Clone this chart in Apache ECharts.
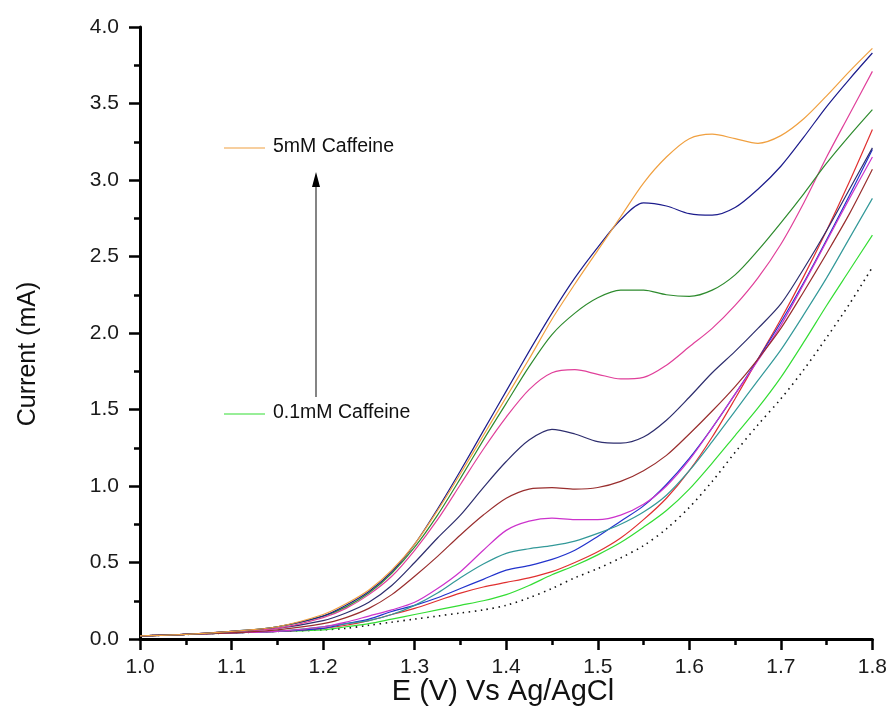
<!DOCTYPE html>
<html>
<head>
<meta charset="utf-8">
<script src="https://cdn.jsdelivr.net/npm/echarts@6/dist/echarts.min.js"></script>
<style>html,body{margin:0;padding:0;background:#fff;}#c{width:890px;height:713px;}</style>
</head>
<body>
<div id="c"></div>
<script>
// Potential grid (V vs Ag/AgCl)
const potentials = [1.00,1.05,1.10,1.15,1.20,1.225,1.25,1.275,1.30,1.325,1.35,1.375,1.40,1.425,1.45,1.475,1.50,1.525,1.55,1.575,1.60,1.625,1.65,1.675,1.70,1.725,1.75,1.775,1.80];

// Currents (mA)
const blank      = [0.02,0.03,0.04,0.05,0.06,0.07,0.09,0.11,0.13,0.15,0.17,0.19,0.22,0.27,0.33,0.40,0.46,0.53,0.61,0.72,0.86,1.03,1.22,1.40,1.57,1.76,1.97,2.19,2.43];
const c01mM      = [0.02,0.03,0.04,0.05,0.06,0.08,0.10,0.13,0.16,0.19,0.22,0.25,0.29,0.35,0.42,0.48,0.55,0.63,0.73,0.84,0.98,1.15,1.33,1.51,1.71,1.94,2.18,2.41,2.64];
const cRed       = [0.02,0.03,0.04,0.05,0.07,0.09,0.12,0.16,0.20,0.25,0.30,0.34,0.37,0.40,0.44,0.50,0.57,0.66,0.78,0.92,1.10,1.32,1.57,1.83,2.09,2.37,2.67,2.99,3.33];
const cBlue      = [0.02,0.03,0.04,0.05,0.07,0.10,0.13,0.18,0.22,0.27,0.33,0.39,0.45,0.48,0.52,0.58,0.67,0.77,0.87,1.01,1.18,1.38,1.60,1.83,2.07,2.33,2.61,2.90,3.20];
const cTeal      = [0.02,0.03,0.04,0.05,0.08,0.10,0.12,0.16,0.22,0.30,0.40,0.49,0.56,0.59,0.61,0.64,0.69,0.75,0.83,0.94,1.10,1.29,1.49,1.69,1.89,2.12,2.36,2.62,2.88];
const cViolet    = [0.02,0.03,0.04,0.05,0.08,0.11,0.15,0.19,0.24,0.33,0.44,0.58,0.71,0.77,0.79,0.78,0.78,0.81,0.88,1.00,1.17,1.38,1.60,1.82,2.05,2.32,2.60,2.88,3.15];
const cBrown     = [0.02,0.03,0.04,0.06,0.10,0.14,0.20,0.29,0.41,0.54,0.68,0.81,0.92,0.98,0.99,0.98,0.99,1.03,1.10,1.20,1.34,1.49,1.65,1.83,2.03,2.27,2.52,2.78,3.07];
const cSlate     = [0.02,0.03,0.05,0.07,0.12,0.17,0.24,0.35,0.50,0.66,0.81,0.99,1.16,1.30,1.37,1.34,1.29,1.28,1.32,1.43,1.58,1.74,1.88,2.03,2.19,2.42,2.67,2.94,3.21];
const cPink      = [0.02,0.03,0.05,0.07,0.14,0.20,0.29,0.41,0.58,0.78,1.01,1.24,1.45,1.63,1.74,1.76,1.73,1.70,1.71,1.79,1.91,2.03,2.18,2.36,2.58,2.85,3.15,3.43,3.71];
const cGreen     = [0.02,0.03,0.05,0.08,0.15,0.21,0.30,0.43,0.60,0.81,1.05,1.30,1.54,1.78,1.99,2.13,2.23,2.28,2.28,2.25,2.24,2.28,2.38,2.54,2.72,2.91,3.11,3.29,3.46];
const cNavy      = [0.02,0.03,0.05,0.08,0.15,0.22,0.31,0.44,0.62,0.85,1.10,1.36,1.62,1.88,2.13,2.36,2.56,2.74,2.85,2.83,2.78,2.77,2.82,2.94,3.09,3.28,3.48,3.66,3.83];
const c5mM       = [0.02,0.03,0.05,0.08,0.16,0.23,0.32,0.45,0.62,0.84,1.08,1.33,1.58,1.83,2.09,2.32,2.54,2.76,2.98,3.15,3.27,3.30,3.27,3.24,3.29,3.40,3.55,3.71,3.86];

const xTicks = [1.0,1.1,1.2,1.3,1.4,1.5,1.6,1.7,1.8];
const yTicks = [0.0,0.5,1.0,1.5,2.0,2.5,3.0,3.5,4.0];

const seriesDefs = [
  {name:'blank', data:blank, color:'#111111', dotted:true},
  {name:'0.1mM Caffeine', data:c01mM, color:'#33DD33'},
  {name:'c2', data:cRed, color:'#E03030'},
  {name:'c3', data:cBlue, color:'#2233CC'},
  {name:'c4', data:cTeal, color:'#339999'},
  {name:'c5', data:cViolet, color:'#CC33CC'},
  {name:'c6', data:cBrown, color:'#992E2E'},
  {name:'c7', data:cSlate, color:'#2E2E6E'},
  {name:'c8', data:cPink, color:'#E0409A'},
  {name:'c9', data:cGreen, color:'#2E8B2E'},
  {name:'c10', data:cNavy, color:'#1C1C8C'},
  {name:'5mM Caffeine', data:c5mM, color:'#F0A040'}
];

const FONT = 'Liberation Sans, Arial, sans-serif';
const chart = echarts.init(document.getElementById('c'), null, {renderer:'canvas'});

const option = {
  backgroundColor:'#ffffff',
  animation:false,
  grid:{left:140, right:16, top:27, bottom:74, containLabel:false},
  xAxis:{
    type:'value', min:1.0, max:1.8, interval:0.1,
    axisLine:{show:true, onZero:false, lineStyle:{color:'#000', width:3}},
    axisTick:{show:true, length:11, inside:false, lineStyle:{color:'#000', width:2.5}},
    minorTick:{show:true, splitNumber:2, length:6, lineStyle:{color:'#000', width:2.5}},
    splitLine:{show:false},
    axisLabel:{fontFamily:FONT, fontSize:21, color:'#1a1a1a', margin:18,
      formatter:v=>{const t=xTicks.find(k=>Math.abs(k-v)<1e-6);return t!==undefined?t.toFixed(1):'';}}
  },
  yAxis:{
    type:'value', min:0, max:4.0, interval:0.5,
    axisLine:{show:true, onZero:false, lineStyle:{color:'#000', width:3}},
    axisTick:{show:true, length:11, inside:false, lineStyle:{color:'#000', width:2.5}},
    minorTick:{show:true, splitNumber:2, length:6, lineStyle:{color:'#000', width:2.5}},
    splitLine:{show:false},
    axisLabel:{fontFamily:FONT, fontSize:21, color:'#1a1a1a', margin:21,
      formatter:v=>{const t=yTicks.find(k=>Math.abs(k-v)<1e-6);return t!==undefined?t.toFixed(1):'';}}
  },
  series: seriesDefs.map(s=>({
    name:s.name, type:'line', showSymbol:false, symbol:'none', smooth:0.3,
    data: potentials.map((x,i)=>[x, s.data[i]]),
    lineStyle: s.dotted ? {color:s.color, width:1.6, type:[1.5,4.5]} : {color:s.color, width:1.2},
    emphasis:{disabled:true}, silent:true, z: 2
  })),
  graphic:[
    {type:'text', x:503, y:692, style:{text:'E (V) Vs Ag/AgCl', font:'29px '+FONT, fill:'#111', align:'center', verticalAlign:'middle'}},
    {type:'text', x:28, y:354, rotation:Math.PI/2, style:{text:'Current (mA)', font:'25px '+FONT, fill:'#111', align:'center', verticalAlign:'middle'}},
    {type:'line', shape:{x1:224,y1:148,x2:265,y2:148}, style:{stroke:'#F0A040', lineWidth:1.2}},
    {type:'text', left:273, top:137, style:{text:'5mM Caffeine', font:'19.5px '+FONT, fill:'#111'}},
    {type:'line', shape:{x1:224,y1:414,x2:265,y2:414}, style:{stroke:'#33DD33', lineWidth:1.2}},
    {type:'text', left:273, top:403, style:{text:'0.1mM Caffeine', font:'19.5px '+FONT, fill:'#111'}},
    {type:'line', shape:{x1:316,y1:397,x2:316,y2:184}, style:{stroke:'#666', lineWidth:1.6}},
    {type:'polygon', shape:{points:[[316,172],[312,187],[320,187]]}, style:{fill:'#000'}}
  ]
};
chart.setOption(option);
</script>
</body>
</html>
